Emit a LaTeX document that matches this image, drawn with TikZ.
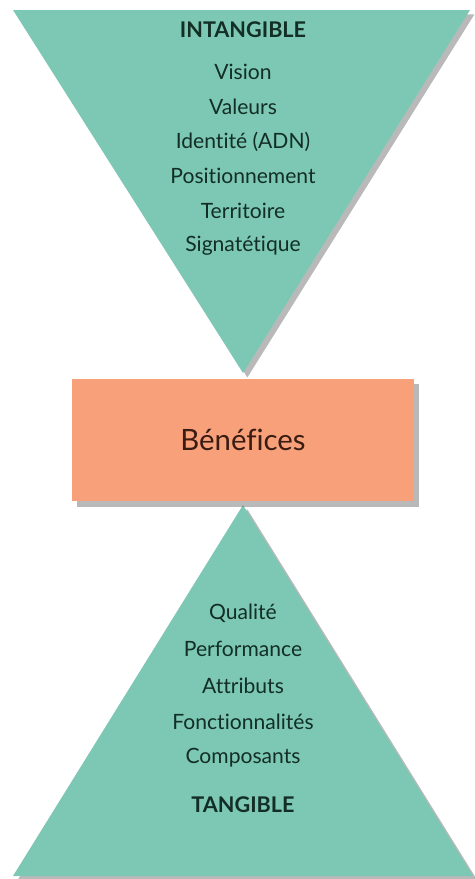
\documentclass[tikz,border=0pt]{standalone}
\usepackage{fontspec}
\setmainfont{Lato}[Ligatures=NoCommon]
\usetikzlibrary{shadows}
\definecolor{vertclair}{HTML}{7DC8B4}
\definecolor{saumon}{HTML}{F7A07A}
\definecolor{textevert}{HTML}{122E25}
\definecolor{textebrun}{HTML}{3A1C12}
\tikzset{
  pyramide/.style={fill=vertclair, drop shadow={shadow xshift=2.5pt, shadow yshift=-2.5pt, fill=black!55, opacity=0.5}},
  mot/.style={text=textevert, font=\fontsize{12}{14}\selectfont},
  titre/.style={text=textevert, font=\fontsize{12.3}{14}\selectfont\bfseries},
  cadre/.style={fill=saumon, minimum width=6.84cm, minimum height=2.46cm, inner sep=0pt,
    drop shadow={shadow xshift=3pt, shadow yshift=-3pt, fill=black!55, opacity=0.5}}
}
\begin{document}
\begin{tikzpicture}[x=0.02cm, y=-0.02cm]
    % Cadre de la page
    \useasboundingbox (0,0) rectangle (474,879);
    
    % Triangle du haut
    \path[pyramide] (13,10) -- (470,10) -- (243,373) -- cycle;
    
    % Triangle du bas
    \path[pyramide] (243,505) -- (473,876) -- (13,876) -- cycle;
    
    % Rectangle central
    \node[cadre, text=textebrun, font=\fontsize{16.7}{19}\selectfont] (benefices) at (243,440) {Bénéfices};
    
    % Textes du haut
    \node[titre] (intangible) at (243,30) {INTANGIBLE};
    \foreach \t [count=\i] in {Vision, Valeurs, {Identité (ADN)}, Positionnement, Territoire, Signatétique}
    \node[mot] (haut\i) at (243,{72+34.7*(\i-1)}) {\t};
    
    % Textes du bas
    \foreach \t [count=\i] in {Qualité, Performance, Attributs, Fonctionnalités, Composants}
    \node[mot] (bas\i) at (243,{613+36.2*(\i-1)}) {\t};
    \node[titre] (tangible) at (243,805) {TANGIBLE};
\end{tikzpicture}
\end{document}
